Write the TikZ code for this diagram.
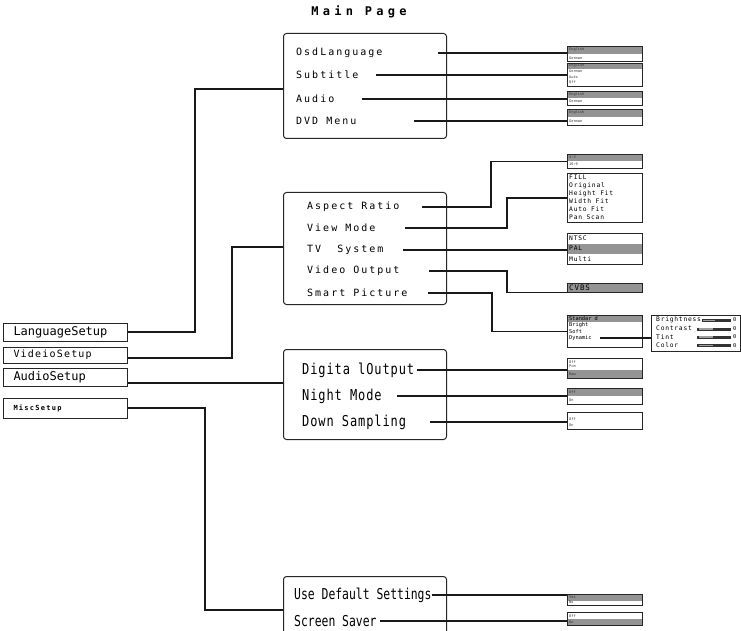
\documentclass[tikz,border=0pt]{standalone}
\usepackage{fontspec}
\newfontfamily\itemfont[LetterSpace=20]{DejaVu Sans Mono}
\newfontfamily\titlefont[LetterSpace=36]{DejaVu Sans Mono}
\newfontfamily\narrowfont[FakeStretch=0.8,LetterSpace=6]{DejaVu Sans Mono}
\newfontfamily\condfont[FakeStretch=0.76]{DejaVu Sans Mono}
\newfontfamily\setupfont{DejaVu Sans Mono}
\newfontfamily\spacedfont[LetterSpace=12]{DejaVu Sans Mono}
\newfontfamily\miscfont[LetterSpace=18]{DejaVu Sans Mono}
\newfontfamily\optfont{DejaVu Sans Mono}
\definecolor{selgray}{gray}{0.58}
\definecolor{bardark}{gray}{0.2}
\definecolor{barlight}{gray}{0.62}
\begin{document}
\begin{tikzpicture}[x=1pt,y=-1pt,
    menubox/.style={draw=black!85, line width=1pt, rounded corners=3pt, anchor=north west, inner sep=0pt, minimum width=163pt},
    optbox/.style={draw=black!85, line width=1.1pt, anchor=north west, inner sep=0pt, minimum width=75pt},
    setupbox/.style={draw=black!85, line width=1pt, anchor=west, inner xsep=10pt, inner ysep=0pt, text width=104pt, align=left, minimum height=18pt},
    item/.style={anchor=west, inner sep=0pt, font=\itemfont\fontsize{10}{12}\selectfont},
    bigitem/.style={anchor=west, inner sep=0pt, font=\narrowfont\fontsize{15}{17}\selectfont},
    condPitem/.style={anchor=west, inner sep=0pt, font=\condfont\fontsize{15}{17}\selectfont},
    opt/.style={anchor=west, inner sep=0pt, text=black!80, font=\optfont\fontsize{3.6}{4}\selectfont},
    midopt/.style={anchor=west, inner sep=0pt, font=\spacedfont\fontsize{6.3}{7}\selectfont},
    smallopt/.style={anchor=west, inner sep=0pt, font=\optfont\fontsize{5.3}{6}\selectfont},
    link/.style={line width=1.2pt, draw=black!90}]
\clip (0,0) rectangle (741,631);
\fill[white] (0,0) rectangle (741,631);

\node[font=\titlefont\bfseries\fontsize{12}{14}\selectfont, inner sep=0pt] (title) at (359,12) {Main Page};

\node[setupbox, font=\setupfont\fontsize{12}{14}\selectfont] (langset) at (3,332) {LanguageSetup};
\node[setupbox, font=\spacedfont\fontsize{10}{12}\selectfont, minimum height=16pt] (vidset) at (3,355) {VideioSetup};
\node[setupbox, font=\setupfont\fontsize{12}{14}\selectfont] (audset) at (3,377) {AudioSetup};
\node[setupbox, font=\miscfont\bfseries\fontsize{7}{8}\selectfont, minimum height=20pt] (miscset) at (3,408) {MiscSetup};

\node[menubox, minimum height=105pt] (langbox) at (283,33) {};
\node[item] (osd) at (296,53) {OsdLanguage};
\node[item] (sub) at (296,75) {Subtitle};
\node[item] (aud) at (296,99) {Audio};
\node[item] (dvd) at (296,121) {DVD Menu};
\coordinate (osdend) at (438,53);
\coordinate (subend) at (376,75);
\coordinate (audend) at (362,99);
\coordinate (dvdend) at (414,121);

\node[menubox, minimum height=112pt] (vidbox) at (283,192) {};
\node[item] (asp) at (307,207) {Aspect Ratio};
\node[item] (view) at (307,228) {View Mode};
\node[item] (tv) at (307,250) {TV~~System};
\node[item] (vout) at (307,271) {Video Output};
\node[item] (smart) at (307,293) {Smart Picture};
\coordinate (aspend) at (422,207);
\coordinate (viewend) at (405,228);
\coordinate (tvend) at (403,250);
\coordinate (voutend) at (429,271);
\coordinate (smartend) at (428,293);

\node[menubox, minimum height=90pt] (audbox) at (283,349) {};
\node[bigitem] (dig) at (302,370) {Digita lOutput};
\node[bigitem] (night) at (302,396) {Night Mode};
\node[bigitem] (down) at (302,422) {Down Sampling};
\coordinate (digend) at (417,370);
\coordinate (nightend) at (397,396);
\coordinate (downend) at (430,422);

\node[menubox, minimum height=100pt] (miscbox) at (283,576) {};
\node[condPitem] (def) at (294,595) {Use Default Settings};
\node[condPitem] (saver) at (294,621) {Screen Saver};
\coordinate (defend) at (432,595);
\coordinate (saverend) at (380,621);

\fill[selgray] (567,46) rectangle (642,54);
\node[optbox, minimum height=15pt] (osdopt) at (567,46) {};
\node[opt] (osd-en) at (569,50) {English};
\node[opt] (osd-de) at (569,58) {German};

\fill[selgray] (567,63) rectangle (642,69);
\node[optbox, minimum height=23pt] (subopt) at (567,63) {};
\node[opt] (sub-en) at (569,66) {English};
\node[opt] (sub-de) at (569,71.5) {German};
\node[opt] (sub-auto) at (569,77) {Auto};
\node[opt] (sub-off) at (569,82.5) {Off};

\fill[selgray] (567,91) rectangle (642,98);
\node[optbox, minimum height=14pt] (audopt) at (567,91) {};
\node[opt] (aud-en) at (569,94.5) {English};
\node[opt] (aud-de) at (569,101.5) {German};

\fill[selgray] (567,109) rectangle (642,117);
\node[optbox, minimum height=16pt] (dvdopt) at (567,109) {};
\node[opt] (dvd-en) at (569,113) {English};
\node[opt] (dvd-de) at (569,121) {German};

\fill[selgray] (567,154) rectangle (642,161);
\node[optbox, minimum height=14pt] (aspopt) at (567,154) {};
\node[opt] (asp-43) at (569,157.5) {4:3};
\node[opt] (asp-169) at (569,164.5) {16:9};

\node[optbox, minimum height=49pt] (viewopt) at (567,173) {};
\node[midopt] (view-fill) at (569,177.5) {FILL};
\node[midopt] (view-orig) at (569,185.5) {Original};
\node[midopt] (view-hfit) at (569,193.5) {Height Fit};
\node[midopt] (view-wfit) at (569,201.5) {Width Fit};
\node[midopt] (view-afit) at (569,209.5) {Auto Fit};
\node[midopt] (view-pan) at (569,217.5) {Pan Scan};

\fill[selgray] (567,243.5) rectangle (642,253.5);
\node[optbox, minimum height=31pt] (tvopt) at (567,233) {};
\node[midopt] (tv-ntsc) at (569,238) {NTSC};
\node[midopt] (tv-pal) at (569,248.5) {PAL};
\node[midopt] (tv-multi) at (569,259) {Multi};

\fill[selgray] (567,283) rectangle (642,292);
\node[optbox, minimum height=9pt] (cvbsopt) at (567,283) {};
\node[midopt, font=\spacedfont\fontsize{7.5}{8}\selectfont] (cvbs) at (569,287.5) {CVBS};

\fill[selgray] (567,315) rectangle (642,322);
\node[optbox, minimum height=32pt] (picopt) at (567,315) {};
\node[smallopt] (pic-std) at (569,318.5) {Standar d};
\node[smallopt] (pic-bright) at (569,325) {Bright};
\node[smallopt] (pic-soft) at (569,331.5) {Soft};
\node[smallopt] (pic-dyn) at (569,338) {Dynamic};
\coordinate (dynend) at (600,338);

\node[optbox, minimum width=89pt, minimum height=36pt] (bripanel) at (651,315) {};
\node[midopt] (bri) at (656,320) {Brightness};
\node[midopt] (con) at (656,328.5) {Contrast};
\node[midopt] (tint) at (656,337) {Tint};
\node[midopt] (col) at (656,345.5) {Color};
\fill[bardark] (702,319) rectangle (731,322);
\fill[barlight] (703,319.8) rectangle (715,321.2);
\fill[bardark] (697,327.5) rectangle (731,330.5);
\fill[barlight] (699,328.3) rectangle (713,329.7);
\fill[bardark] (697,335.5) rectangle (731,338.5);
\fill[barlight] (699,336.3) rectangle (713,337.7);
\fill[bardark] (697,344) rectangle (731,347);
\fill[barlight] (699,344.8) rectangle (713,346.2);
\node[smallopt] (bri-val) at (733,320) {0};
\node[smallopt] (con-val) at (733,328.5) {0};
\node[smallopt] (tint-val) at (733,337) {0};
\node[smallopt] (col-val) at (733,345.5) {0};

\fill[selgray] (567,370) rectangle (642,378);
\node[optbox, minimum height=20pt] (digopt) at (567,358) {};
\node[opt] (dig-off) at (569,362) {Off};
\node[opt] (dig-pcm) at (569,366.5) {Pcm};
\node[opt] (dig-raw) at (569,374) {Raw};

\fill[selgray] (567,388) rectangle (642,396);
\node[optbox, minimum height=16pt] (nightopt) at (567,388) {};
\node[opt] (night-off) at (569,392) {Off};
\node[opt] (night-on) at (569,400) {On};

\node[optbox, minimum height=17pt] (downopt) at (567,412) {};
\node[opt] (down-off) at (569,419) {Off};
\node[opt] (down-on) at (569,425) {On};

\fill[selgray] (567,594) rectangle (642,600.5);
\node[optbox, minimum height=11pt] (defopt) at (567,594) {};
\node[opt] (def-yes) at (569,597) {Yes};
\node[opt] (def-no) at (569,602.5) {No};

\fill[selgray] (567,619) rectangle (642,625);
\node[optbox, minimum height=13pt] (saveropt) at (567,612) {};
\node[opt] (saver-off) at (569,616) {Off};
\node[opt] (saver-on) at (569,622) {On};

\draw[link] (langset.east) -| (195,89) -- (langbox.west |- 0,89);
\draw[link] (vidset.east |- 0,358) -| (232,247) -- (vidbox.west |- 0,247);
\draw[link] (audset.east |- 0,383) -- (audbox.west |- 0,383);
\draw[link] (miscset.east) -| (205,610) -- (miscbox.west |- 0,610);

\draw[link] (osdend) -- (osdend -| osdopt.west);
\draw[link] (subend) -- (subend -| subopt.west);
\draw[link] (audend) -- (audend -| audopt.west);
\draw[link] (dvdend) -- (dvdend -| dvdopt.west);

\draw[link] (aspend) -- (491,207) |- (aspopt.west);
\draw[link] (viewend) -- (507,228) |- (viewopt.west);
\draw[link] (tvend) -- (tvend -| tvopt.west);
\draw[link] (voutend) -- (507,271) |- ([yshift=1pt]cvbsopt.south west);
\draw[link] (smartend) -- (492,293) |- (picopt.west);
\draw[link] (dynend) -- (dynend -| bripanel.west);

\draw[link] (digend) -- (digend -| digopt.west);
\draw[link] (nightend) -- (nightend -| nightopt.west);
\draw[link] (downend) -- (downend -| downopt.west);
\draw[link] (defend) -- (defend -| defopt.west);
\draw[link] (saverend) -- (saverend -| saveropt.west);
\end{tikzpicture}
\end{document}
